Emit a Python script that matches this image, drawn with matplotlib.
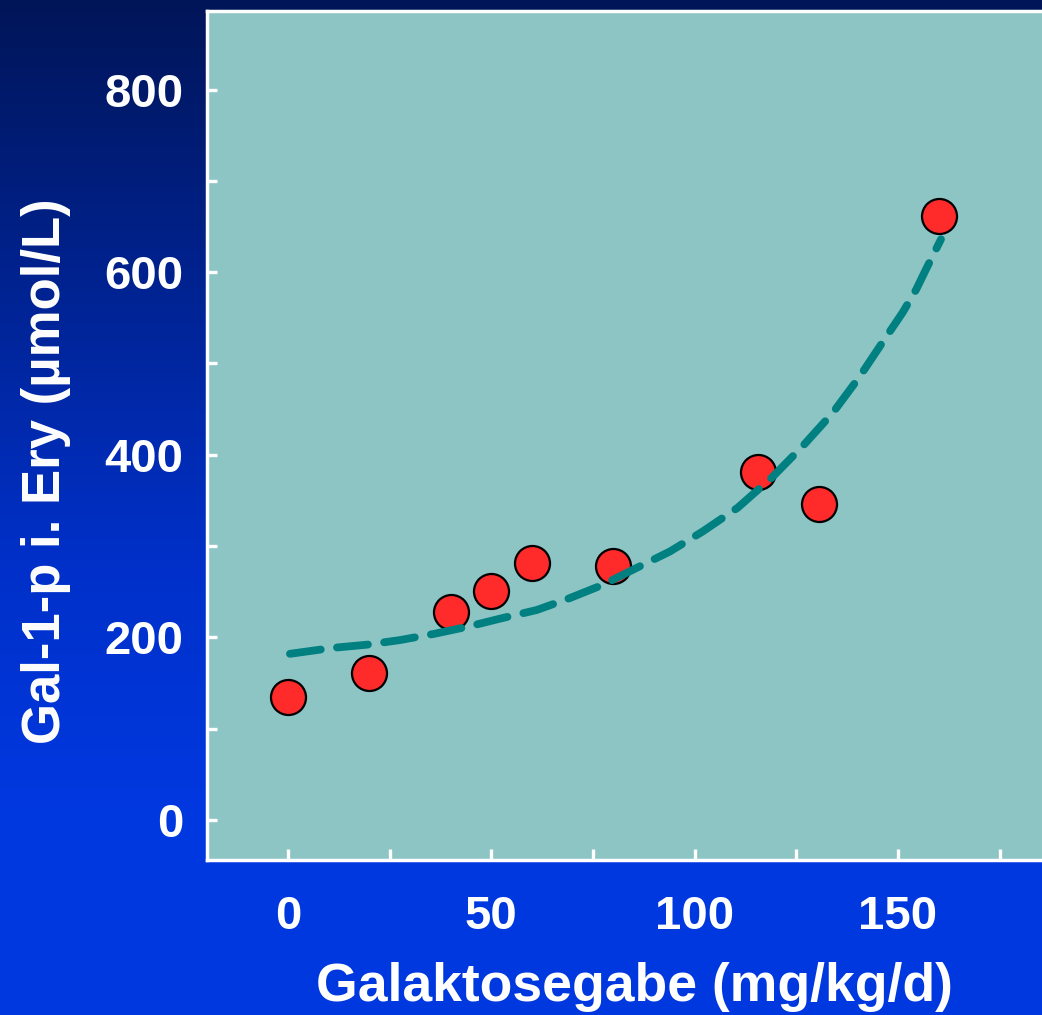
import numpy as np
import matplotlib.pyplot as plt
from matplotlib.colors import LinearSegmentedColormap

# measured points (Galaktosegabe mg/kg/d vs Gal-1-p umol/L)
dose = [0, 20, 40, 50, 60, 80, 115.5, 130.5, 160]
gal1p = [135, 161, 228, 251, 282, 278, 381, 346, 662]

# trend line
trend_x = [0.5, 11, 19.4, 27.5, 36.1, 44, 52.6, 61.2, 69.3, 77.4, 85.7, 93.9,
           102, 110.6, 119, 126.5, 134, 140.5, 146.2, 151.2, 154.5, 156.9, 160.6]
trend_y = [182, 188.5, 192, 197, 204, 211.5, 221, 230, 243, 257.5, 276, 294,
           316, 342, 375, 409, 446, 485, 523, 556, 581, 603, 636]

x_ticks = [0, 50, 100, 150]
y_ticks = [0, 200, 400, 600, 800]

plt.rcParams['font.family'] = ['Liberation Sans', 'DejaVu Sans']
plt.rcParams['font.weight'] = 'bold'

fig = plt.figure(figsize=(10.42, 10.15), dpi=100)

# blue gradient background
bg = fig.add_axes([0, 0, 1, 1], zorder=-10)
cmap = LinearSegmentedColormap.from_list('bg', [(0, '#001558'), (0.55, '#0030C8'), (0.8, '#0038E0'), (1, '#0038E0')])
grad = np.linspace(0, 1, 256).reshape(-1, 1)
bg.imshow(grad, aspect='auto', cmap=cmap, extent=[0, 1, 0, 1], origin='upper')
bg.axis('off')

ax = fig.add_axes([207 / 1042, 1 - 860 / 1015, 1 - 207 / 1042 + 0.01, (860 - 11) / 1015])
ax.set_facecolor('#8DC4C4')

ax.scatter(dose, gal1p, s=34 ** 2 * 0.55, color='#FF2A2A', edgecolors='black', linewidths=1.6, zorder=3)
ln, = ax.plot(trend_x, trend_y, color='#008080', lw=5.6, dash_capstyle='round', zorder=4)
ln.set_dashes((4.0, 2.1))

ax.set_xlim(-19.9, 188)
ax.set_ylim(-43.8, 886)

ax.set_xticks(np.arange(0, 176, 25))
ax.set_xticklabels([str(v) if v in x_ticks else '' for v in np.arange(0, 176, 25)])
ax.set_yticks(np.arange(0, 801, 100))
ax.set_yticklabels([str(v) if v in y_ticks else '' for v in np.arange(0, 801, 100)])

ax.tick_params(axis='both', direction='in', colors='white', width=2.4, labelsize=34)
ax.tick_params(axis='x', length=8, pad=25)
ax.tick_params(axis='y', length=7, pad=17)
for lab in ax.get_xticklabels() + ax.get_yticklabels():
    lab.set_fontweight('bold')

for side in ['left', 'bottom', 'top']:
    ax.spines[side].set_color('white')
    ax.spines[side].set_linewidth(2.5)
ax.spines['right'].set_visible(False)

fig.text(634 / 1042, 1 - 987 / 1015, 'Galaktosegabe (mg/kg/d)', color='white', fontsize=38.5,
         fontweight='bold', ha='center', va='center')
fig.text(46 / 1042, 1 - 471 / 1015, 'Gal-1-p i. Ery (µmol/L)', color='white', fontsize=38,
         fontweight='bold', ha='center', va='center', rotation=90)

fig.savefig('out.png', dpi=100)
